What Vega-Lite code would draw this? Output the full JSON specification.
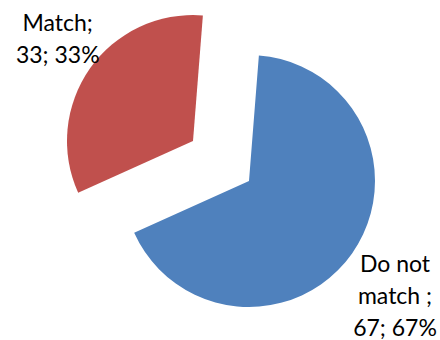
{
  "$schema": "https://vega.github.io/schema/vega-lite/v6.json",
  "width": 442,
  "height": 322,
  "autosize": "none",
  "padding": {"top": 0, "left": 0, "right": 0, "bottom": 18},
  "background": "white",
  "config": {"view": {"stroke": null}},
  "data": {
    "values": [
      {"category": "Do not match", "value": 67, "percent": 67, "label": ["Do not", "match ;", "67; 67%"]},
      {"category": "Match", "value": 33, "percent": 33, "label": ["Match;", "33; 33%"]}
    ]
  },
  "transform": [
    {"stack": "value", "groupby": [], "as": ["start", "end"], "sort": [{"field": "value", "order": "descending"}]},
    {"calculate": "(datum.start + datum.end) / 2", "as": "mid"}
  ],
  "layer": [
    {
      "transform": [{"filter": "datum.category === 'Do not match'"}],
      "mark": {"type": "arc", "radius": 126, "xOffset": 28, "yOffset": 20, "color": "#4F81BD"},
      "encoding": {
        "theta": {"field": "start", "type": "quantitative", "scale": {"domain": [0, 100], "range": [0.0785, 6.3617]}},
        "theta2": {"field": "end"}
      }
    },
    {
      "transform": [{"filter": "datum.category === 'Match'"}],
      "mark": {"type": "arc", "radius": 126, "xOffset": -28, "yOffset": -20, "color": "#C0504D"},
      "encoding": {
        "theta": {"field": "start", "type": "quantitative", "scale": {"domain": [0, 100], "range": [0.0785, 6.3617]}},
        "theta2": {"field": "end"}
      }
    },
    {
      "transform": [{"filter": "datum.category === 'Do not match'"}],
      "mark": {"type": "text", "font": "Lato", "fontSize": 23, "lineHeight": 32, "radius": 187, "xOffset": 21, "yOffset": -4, "align": "center", "baseline": "middle", "color": "#000000"},
      "encoding": {
        "theta": {"field": "mid", "type": "quantitative", "scale": {"domain": [0, 100], "range": [0.0785, 6.3617]}},
        "text": {"field": "label"}
      }
    },
    {
      "transform": [{"filter": "datum.category === 'Match'"}],
      "mark": {"type": "text", "font": "Lato", "fontSize": 23, "lineHeight": 32, "radius": 169, "xOffset": -25, "yOffset": -40, "align": "center", "baseline": "middle", "color": "#000000"},
      "encoding": {
        "theta": {"field": "mid", "type": "quantitative", "scale": {"domain": [0, 100], "range": [0.0785, 6.3617]}},
        "text": {"field": "label"}
      }
    }
  ]
}
